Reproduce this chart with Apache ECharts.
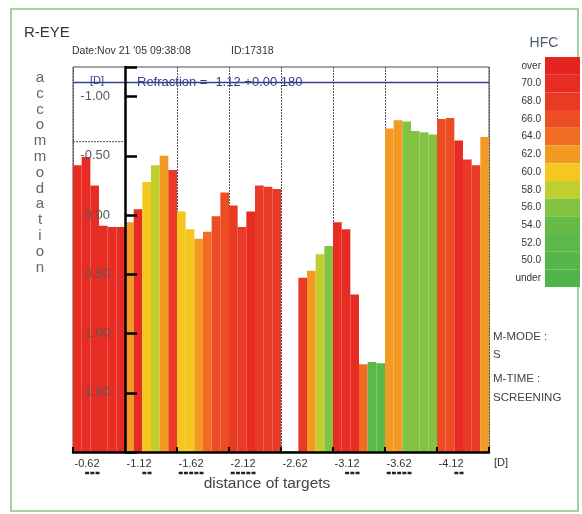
<!DOCTYPE html>
<html><head><meta charset="utf-8">
<script src="https://cdn.jsdelivr.net/npm/echarts@6/dist/echarts.min.js"></script>
<style>html,body{margin:0;padding:0;background:#fff}#c{width:582px;height:514px}</style>
</head><body><div id="c"></div>
<script>
// ---- data ----
const distances = ['-0.62','-1.12','-1.62','-2.12','-2.62','-3.12','-3.62','-4.12'];
const distanceMarks = [3,2,5,5,0,3,5,2];
const barsPerTarget = 6;
const accommodation = [
  -0.42,-0.49,-0.25, 0.09, 0.10, 0.10,
   0.06,-0.05,-0.28,-0.42,-0.50,-0.38,
  -0.03, 0.12, 0.20, 0.14, 0.01,-0.19,
  -0.08, 0.10,-0.03,-0.25,-0.24,-0.22,
   null, null, 0.53, 0.47, 0.33, 0.26,
   0.06, 0.12, 0.67, 1.26, 1.24, 1.25,
  -0.73,-0.80,-0.79,-0.71,-0.70,-0.68,
  -0.81,-0.82,-0.63,-0.47,-0.42,-0.66
];
const hfc = [
  70.5,71,70.5,71,70.5,70.5,
  62.5,70.5,60.5,58.5,62.5,68.5,
  60.5,60.5,62.5,64.5,66.5,66.5,
  69,68.5,70.5,68.5,68.5,69,
  null,null,68.5,62.5,58.5,56.5,
  70.5,70.5,70.5,64.5,53,53,
  62.5,62.5,56.5,56.5,56.5,56.5,
  66.5,66.5,70.5,68.5,68.5,62.5
];
const hfcLabels = ['under','50.0','52.0','54.0','56.0','58.0','60.0','62.0','64.0','66.0','68.0','70.0','over'];
const hfcBounds = [50,52,54,56,58,60,62,64,66,68,70,72];
const hfcColors = ['#4fb44a','#55b649','#5cb848','#66bb46','#84c342','#c0cf2e','#f4c81e','#f39a22','#f06c23','#ed4d25','#e93a25','#e72d23','#e52420'];
const refraction = -1.12;
const firstTarget = -0.62;
const axisBottom = 2.0, axisTop = -1.25;

// ---- build ----
const nBars = accommodation.length;
const barData = accommodation.map((a, i) => a == null ? [i, '-', '-'] : [i, axisBottom - a, hfc[i]]);
const pieces = hfcLabels.map((lab, k) => {
  const p = { label: lab, color: hfcColors[k] };
  if (k === 0) p.lt = hfcBounds[0];
  else if (k === hfcLabels.length - 1) p.gte = hfcBounds[hfcBounds.length - 1];
  else { p.gte = hfcBounds[k - 1]; p.lt = hfcBounds[k]; }
  return p;
});
const catIdx = accommodation.map((_, i) => i);
const font = 'Liberation Sans, Arial, sans-serif';
const markLine = n => n > 0 ? Array(n).fill('{d| }').join('{g| }') : '{g| }';

const chart = echarts.init(document.getElementById('c'), null, { renderer: 'canvas' });
chart.setOption({
  backgroundColor: '#fff',
  animation: false,
  textStyle: { fontFamily: font },
  grid: { left: 73, right: 93, top: 67, bottom: 62, show: true, borderColor: '#4a4a55', borderWidth: 1, backgroundColor: 'transparent' },
  xAxis: [
    { type: 'category', data: catIdx, show: false, boundaryGap: true },
    { type: 'category', data: distances, boundaryGap: true, position: 'bottom',
      axisLine: { show: false }, axisTick: { show: false }, axisLabel: { show: false },
      splitLine: { show: true, interval: 0, lineStyle: { color: '#555', width: 1, type: [2, 1] } } },
    { type: 'value', min: 0, max: nBars, show: false },
    { type: 'category', data: distances, boundaryGap: true, position: 'bottom', z: 6,
      axisLine: { show: true, lineStyle: { color: '#000', width: 2.5 } },
      axisTick: { show: true, interval: 0, inside: true, length: 5, lineStyle: { color: '#000', width: 2 } },
      splitLine: { show: false },
      axisLabel: {
        show: true, interval: 0, margin: 6, color: '#333', fontSize: 11, align: 'center', padding: [0, 24, 0, 0],
        formatter: (v, i) => v + '\n' + markLine(distanceMarks[i]),
        rich: {
          d: { width: 4, height: 2.5, backgroundColor: '#222', align: 'right', lineHeight: 8 },
          g: { width: 1.2, height: 2.5, align: 'right', lineHeight: 8 }
        }
      } }
  ],
  yAxis: {
    type: 'value', min: 0, max: axisBottom - axisTop, interval: 0.5, offset: -52, z: 5,
    axisLine: { show: true, lineStyle: { color: '#000', width: 2.5 } },
    axisTick: { show: true, inside: true, length: 12, lineStyle: { color: '#000', width: 2.5 } },
    splitLine: { show: false },
    axisLabel: {
      margin: 15, color: '#5a5a5a', fontSize: 13,
      formatter: v => {
        if (v <= 0 || Math.abs(v * 2 - Math.round(v * 2)) > 1e-6) return '';
        const a = axisBottom - v;
        return (Math.abs(a) < 1e-9 ? 0 : a).toFixed(2);
      }
    }
  },
  visualMap: {
    type: 'piecewise', seriesIndex: 0, dimension: 2, orient: 'vertical',
    right: 2, top: 57, padding: 0, itemWidth: 35, itemHeight: 17.7, itemGap: 0, itemSymbol: 'rect',
    align: 'right', textGap: 4, selectedMode: false, pieces: pieces,
    textStyle: { color: '#333', fontSize: 10, fontFamily: font }
  },
  series: [
    { type: 'bar', xAxisIndex: 0, yAxisIndex: 0, data: barData, barCategoryGap: '0%', barGap: '0%', z: 2, silent: true },
    { type: 'line', xAxisIndex: 2, yAxisIndex: 0, symbol: 'none', silent: true, z: 4,
      data: [[0, axisBottom - refraction], [nBars, axisBottom - refraction]],
      lineStyle: { color: '#34408a', width: 1.5 } },
    { type: 'line', xAxisIndex: 2, yAxisIndex: 0, symbol: 'none', silent: true, z: 4,
      data: [[0, axisBottom - firstTarget], [barsPerTarget, axisBottom - firstTarget]],
      lineStyle: { color: '#555', width: 1, type: [2, 1] } }
  ],
  graphic: [
    { type: 'rect', shape: { x: 11, y: 9, width: 567, height: 502 }, style: { fill: 'none', stroke: '#a3d49c', lineWidth: 2 }, z: -1 },
    { type: 'text', left: 24, top: 25, style: { text: 'R-EYE', font: '15px ' + font, fill: '#333' } },
    { type: 'text', left: 72, top: 46, style: { text: "Date:Nov 21 '05 09:38:08", font: '10.5px ' + font, fill: '#333' } },
    { type: 'text', left: 231, top: 46, style: { text: 'ID:17318', font: '10.5px ' + font, fill: '#333' } },
    { type: 'text', left: 90, top: 75, z: 10, style: { text: '[D]', font: '11px ' + font, fill: '#34408a' } },
    { type: 'text', left: 137, top: 76, z: 3, style: { text: 'Refraction = -1.12 +0.00 180', font: '13px ' + font, fill: '#34408a' } },
    { type: 'text', x: 40, y: 70, style: { text: 'accommodation'.split('').join('\n'), font: '15px ' + font, fill: '#666', align: 'center', lineHeight: 15.8 } },
    { type: 'text', x: 544, y: 36, style: { text: 'HFC', font: '14px ' + font, fill: '#4a5870', align: 'center' } },
    { type: 'text', left: 493, top: 331, style: { text: 'M-MODE :', font: '11.5px ' + font, fill: '#444' } },
    { type: 'text', left: 493, top: 349, style: { text: 'S', font: '11.5px ' + font, fill: '#444' } },
    { type: 'text', left: 493, top: 373, style: { text: 'M-TIME :', font: '11.5px ' + font, fill: '#444' } },
    { type: 'text', left: 493, top: 392, style: { text: 'SCREENING', font: '11.5px ' + font, fill: '#444' } },
    { type: 'text', left: 494, top: 457, style: { text: '[D]', font: '11px ' + font, fill: '#333' } },
    { type: 'text', x: 267, y: 476, style: { text: 'distance of targets', font: '15.5px ' + font, fill: '#444', align: 'center' } }
  ]
});
</script></body></html>
